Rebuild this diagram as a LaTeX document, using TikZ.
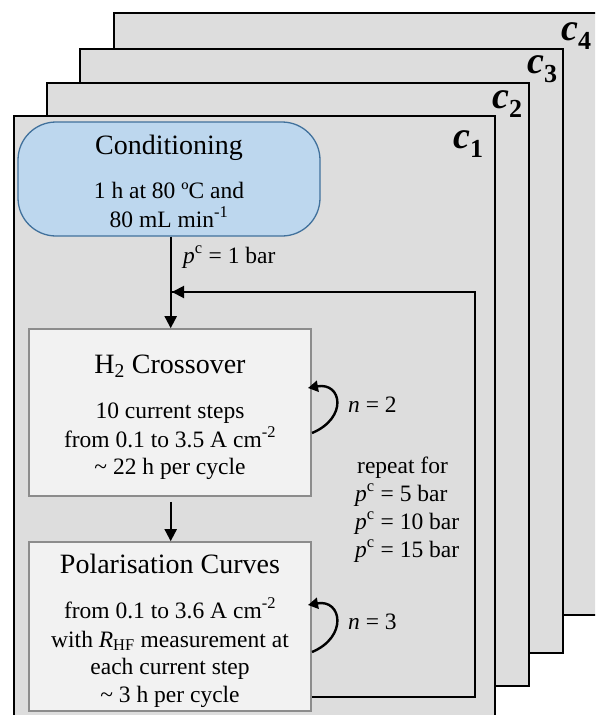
\documentclass[tikz,border=0pt]{standalone}
\usepackage{fontspec}
\setmainfont{Liberation Serif}
\usetikzlibrary{arrows.meta}
\definecolor{sheetgray}{HTML}{DDDDDD}
\definecolor{condfill}{HTML}{BDD7EE}
\definecolor{conddraw}{HTML}{41719C}
\definecolor{boxfill}{HTML}{F2F2F2}
\definecolor{boxdraw}{HTML}{8C8C8C}
\newcommand{\clab}[1]{\textbf{\textit{c}}\raisebox{-9pt}{\fontsize{26}{26}\selectfont\textbf{#1}}}
\newcommand{\pcc}{\textit{p}\textsuperscript{c}}
\begin{document}
\begin{tikzpicture}[x=1pt,y=-1pt,
  sheet/.style={fill=sheetgray, draw=black, line width=1.4pt},
  clabel/.style={anchor=base west, inner sep=0pt, font=\fontsize{38}{40}\selectfont},
  condbox/.style={fill=condfill, draw=conddraw, line width=1.3pt, rounded corners=38pt, minimum width=302pt, minimum height=114pt},
  stepbox/.style={fill=boxfill, draw=boxdraw, line width=1.6pt, minimum width=282pt},
  head/.style={anchor=base, inner sep=0pt, font=\fontsize{28}{30}\selectfont},
  body/.style={anchor=base, inner sep=0pt, font=\fontsize{23.5}{26}\selectfont},
  lbl/.style={anchor=base west, inner sep=0pt, font=\fontsize{23.5}{26}\selectfont},
  flow/.style={line width=2pt, -{Triangle[length=12pt,width=12pt]}},
  loop/.style={line width=2.4pt, -{Triangle[length=10pt,width=11pt]}},
  fb/.style={line width=2.6pt}]
\useasboundingbox (0,0) rectangle (595,715);
\clip (0,0) rectangle (595,715);
% stacked sheets
\fill[sheetgray] (114,13) rectangle (600,615);
\draw[line width=1.4pt] (600,13) -- (114,13) -- (114,615) -- (600,615);
\draw[sheet] (80,49) rectangle (563,653);
\draw[sheet] (47,83) rectangle (529,686);
\draw[sheet] (14,116) rectangle (495,730);
\node[clabel] (lc4) at (561,40) {\clab{4}};
\node[clabel] (lc3) at (527,73) {\clab{3}};
\node[clabel] (lc2) at (492,108) {\clab{2}};
\node[clabel] (lc1) at (453,148) {\clab{1}};
% conditioning
\node[condbox] (cond) at (169,179) {};
\node[head] (condh) at (169,154) {Conditioning};
\node[body] (cond1) at (169,198) {1 h at 80 ºC and};
\node[body] (cond2) at (169,227) {80 mL min\textsuperscript{-1}};
\node[lbl] (p1) at (183,263) {\pcc{} = 1 bar};
% H2 crossover
\node[stepbox, minimum height=167pt] (h2) at (170,412.5) {};
\node[head] (h2h) at (170,373) {H\textsubscript{2} Crossover};
\node[body] (h21) at (170,418) {10 current steps};
\node[body] (h22) at (170,447) {from 0.1 to 3.5 A cm\textsuperscript{-2}};
\node[body] (h23) at (170,474) {\textasciitilde{} 22 h per cycle};
% polarisation
\node[stepbox, minimum height=169pt] (pol) at (170,626.5) {};
\node[head] (polh) at (170,573) {Polarisation Curves};
\node[body] (pol1) at (170,618) {from 0.1 to 3.6 A cm\textsuperscript{-2}};
\node[body] (pol2) at (170,647) {with \textit{R}\textsubscript{HF} measurement at};
\node[body] (pol3) at (170,674) {each current step};
\node[body] (pol4) at (170,702) {\textasciitilde{} 3 h per cycle};
% flow arrows
\draw[flow] (cond.south -| 170.7,0) -- (h2.north -| 170.7,0);
\draw[flow, shorten <=5pt] (h2.south -| 170.7,0) -- (pol.north -| 170.7,0);
% feedback loop
\coordinate (fbs) at (pol.east |- 0,697);
\coordinate (fbr) at (475,697);
\coordinate (fbt) at (475,292);
\coordinate (fbe) at (172,292);
\draw[fb] (fbs) -- (fbr) -- (fbt) -- (fbe);
\draw[flow] (fbt) ++(-2,0) -- (fbe);
% repeat loops
\coordinate (l2a) at (312,433);
\coordinate (l2b) at (308,388);
\draw[loop] (l2a) .. controls (348,418) and (342,382) .. (l2b);
\node[lbl] (n2) at (348,412) {\textit{n} = 2};
\coordinate (l3a) at (312,652);
\coordinate (l3b) at (308,605);
\draw[loop] (l3a) .. controls (348,637) and (342,599) .. (l3b);
\node[lbl] (n3) at (348,629) {\textit{n} = 3};
% repeat text
\node[lbl] (rep) at (357,473) {repeat for};
\node[lbl] (rep5) at (355,501) {\pcc{} = 5 bar};
\node[lbl] (rep10) at (355,529) {\pcc{} = 10 bar};
\node[lbl] (rep15) at (355,557) {\pcc{} = 15 bar};
\end{tikzpicture}
\end{document}
